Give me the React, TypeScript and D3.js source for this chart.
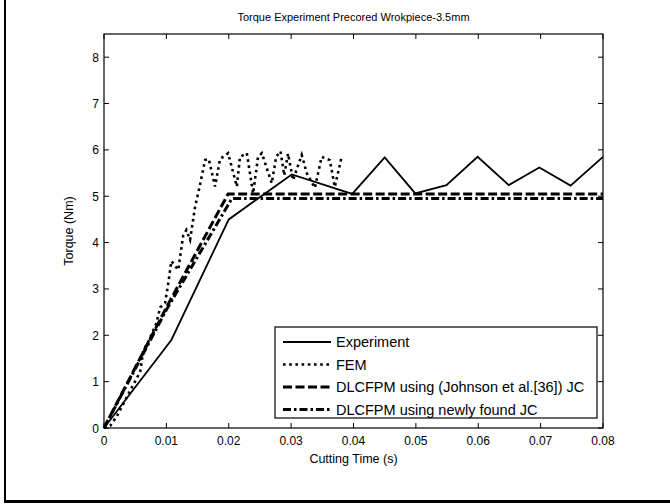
import React from "react";
import * as d3 from "d3";

const expTime = [0, 0.005, 0.0108, 0.02, 0.0301, 0.0398, 0.045, 0.0499, 0.0549, 0.0599, 0.0649, 0.0698, 0.0748, 0.08];
const expTorque = [0, 0.88, 1.9, 4.5, 5.47, 5.05, 5.84, 5.06, 5.24, 5.85, 5.24, 5.62, 5.23, 5.85];

const femTime = [0, 0.001, 0.002, 0.0034, 0.0044, 0.0058, 0.0063, 0.0071, 0.0084, 0.009, 0.0098, 0.0103, 0.0108, 0.0119, 0.0127, 0.0132, 0.0138, 0.0146, 0.0154, 0.0162, 0.0168, 0.0178, 0.0186, 0.0199, 0.0213, 0.0218, 0.0229, 0.0239, 0.0247, 0.0253, 0.0269, 0.0276, 0.0283, 0.0289, 0.0295, 0.0303, 0.0317, 0.0325, 0.0338, 0.0349, 0.0362, 0.037, 0.0381];
const femTorque = [0, 0.05, 0.24, 0.6, 0.86, 1.21, 1.68, 1.86, 2.26, 2.6, 2.7, 3.12, 3.6, 3.41, 4.15, 4.27, 4.06, 4.77, 5.25, 5.78, 5.8, 5.21, 5.8, 5.93, 5.21, 5.85, 5.93, 5.06, 5.85, 5.93, 5.28, 5.85, 5.97, 5.45, 5.92, 5.35, 5.89, 5.5, 5.18, 5.85, 5.78, 5.2, 5.85];

const johnsonTime = [0, 0.01, 0.0199, 0.08];
const johnsonTorque = [0, 2.6, 5.05, 5.05];

const newJcTime = [0, 0.01, 0.0205, 0.08];
const newJcTorque = [0, 2.55, 4.95, 4.95];

const xTicks = [0, 0.01, 0.02, 0.03, 0.04, 0.05, 0.06, 0.07, 0.08];
const xTickLabels = ["0", "0.01", "0.02", "0.03", "0.04", "0.05", "0.06", "0.07", "0.08"];
const yTicks = [0, 1, 2, 3, 4, 5, 6, 7, 8];

const seriesNames = [
  "Experiment",
  "FEM",
  "DLCFPM using (Johnson et al.[36]) JC",
  "DLCFPM using newly found JC",
];

const title = "Torque Experiment Precored Wrokpiece-3.5mm";
const xLabel = "Cutting Time (s)";
const yLabel = "Torque (Nm)";

const FONT = "'Liberation Sans', Arial, Helvetica, sans-serif";

export default function App() {
  const left = 104, right = 603, top = 34, bottom = 428;
  const x = d3.scaleLinear().domain([0, 0.08]).range([left, right]);
  const y = d3.scaleLinear().domain([0, 8.5]).range([bottom, top]);

  const mk = (xs: number[], ys: number[]) =>
    d3.line<number>().x((_, i) => x(xs[i])).y((_, i) => y(ys[i]))(xs) || "";

  const styles = [
    { w: 1.8, dash: undefined as string | undefined },
    { w: 2.6, dash: "2.6 3.6" },
    { w: 3, dash: "9 3.5" },
    { w: 3, dash: "8 3 2.5 3" },
  ];
  const paths = [
    mk(expTime, expTorque),
    mk(femTime, femTorque),
    mk(johnsonTime, johnsonTorque),
    mk(newJcTime, newJcTorque),
  ];

  const tl = 5;
  const legX = 275, legY = 327, legW = 322, legH = 91;
  const rowY = [342, 364.5, 387, 409.5];

  return (
    <svg width={670} height={504} style={{ position: "absolute", left: 0, top: 0, background: "#fff" }} fontFamily={FONT}>
      <rect x={0} y={0} width={670} height={504} fill="#fff" />
      <line x1={5} y1={0} x2={5} y2={502} stroke="#000" strokeWidth={2} />
      <line x1={4} y1={501.5} x2={670} y2={501.5} stroke="#000" strokeWidth={3} />

      <text x={(left + right) / 2} y={21} textAnchor="middle" fontSize={11}>{title}</text>

      <defs>
        <clipPath id="clip"><rect x={left - 2} y={top} width={right - left + 4} height={bottom - top + 2} /></clipPath>
      </defs>
      <g clipPath="url(#clip)">
        {paths.map((d, i) => (
          <path key={i} d={d} fill="none" stroke="#000" strokeWidth={styles[i].w}
            strokeDasharray={styles[i].dash} strokeLinejoin="miter" />
        ))}
      </g>

      <rect x={left} y={top} width={right - left} height={bottom - top} fill="none" stroke="#000" strokeWidth={1.2} />
      {xTicks.map((t, i) => (
        <g key={"x" + i}>
          <line x1={x(t)} x2={x(t)} y1={bottom} y2={bottom - tl} stroke="#000" strokeWidth={1} />
          <line x1={x(t)} x2={x(t)} y1={top} y2={top + tl} stroke="#000" strokeWidth={1} />
          <text x={x(t)} y={bottom + 17} textAnchor="middle" fontSize={12}>{xTickLabels[i]}</text>
        </g>
      ))}
      {yTicks.map((t, i) => (
        <g key={"y" + i}>
          <line x1={left} x2={left + tl} y1={y(t)} y2={y(t)} stroke="#000" strokeWidth={1} />
          <line x1={right} x2={right - tl} y1={y(t)} y2={y(t)} stroke="#000" strokeWidth={1} />
          <text x={left - 5} y={y(t) + 4.5} textAnchor="end" fontSize={12}>{String(t)}</text>
        </g>
      ))}
      <text x={(left + right) / 2} y={463} textAnchor="middle" fontSize={12.5}>{xLabel}</text>
      <text transform={`translate(73,${(top + bottom) / 2}) rotate(-90)`} textAnchor="middle" fontSize={12.5}>{yLabel}</text>

      <rect x={legX} y={legY} width={legW} height={legH} fill="#fff" stroke="#000" strokeWidth={1.2} />
      {seriesNames.map((n, i) => (
        <g key={"l" + i}>
          <line x1={283} x2={331} y1={rowY[i]} y2={rowY[i]} stroke="#000" strokeWidth={styles[i].w}
            strokeDasharray={styles[i].dash} />
          <text x={336} y={rowY[i] + 5} fontSize={14.5}>{n}</text>
        </g>
      ))}
    </svg>
  );
}
